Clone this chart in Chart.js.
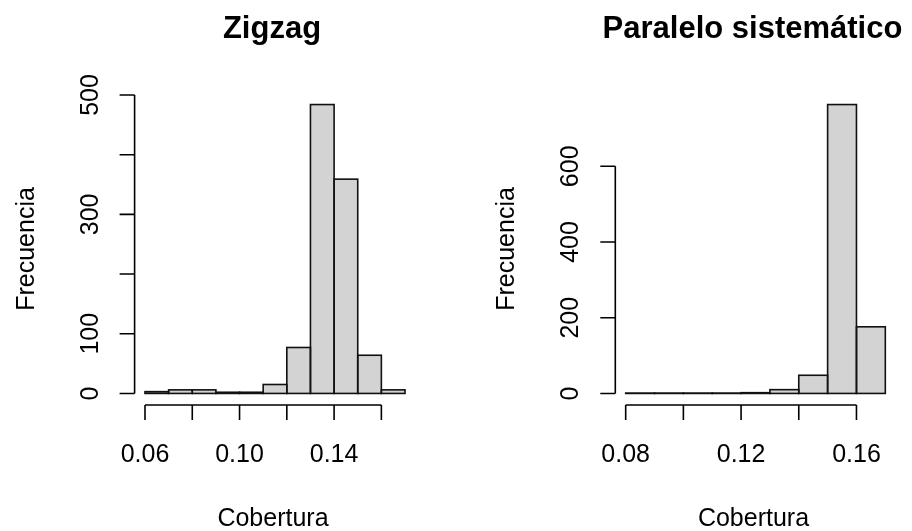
<!DOCTYPE html>
<html>
<head>
<meta charset="utf-8">
<script src="https://cdn.jsdelivr.net/npm/chart.js@4/dist/chart.umd.min.js"></script>
<style>
  body { margin: 0; background: #fff; }
  #wrap { position: relative; width: 912px; height: 531px; }
  canvas { position: absolute; top: 0; }
</style>
</head>
<body>
<div id="wrap">
  <canvas id="zigzagChart" width="456" height="531" style="left:0"></canvas>
  <canvas id="paraleloChart" width="456" height="531" style="left:456px"></canvas>
</div>
<script>
// Histogram data (bin edges + counts)
const zigzagBreaks = [0.06, 0.07, 0.08, 0.09, 0.10, 0.11, 0.12, 0.13, 0.14, 0.15, 0.16, 0.17];
const zigzagCounts = [3, 6, 6, 2, 2, 15, 77, 484, 359, 64, 6];
const zigzagXTicks = [0.06, 0.08, 0.10, 0.12, 0.14, 0.16];
const zigzagXLabels = ['0.06', '', '0.10', '', '0.14', ''];
const zigzagYTicks = [0, 100, 200, 300, 400, 500];
const zigzagYLabels = ['0', '100', '', '300', '', '500'];

const paraleloBreaks = [0.08, 0.09, 0.10, 0.11, 0.12, 0.13, 0.14, 0.15, 0.16, 0.17];
const paraleloCounts = [1, 1, 1, 1, 2, 10, 48, 763, 176];
const paraleloXTicks = [0.08, 0.10, 0.12, 0.14, 0.16];
const paraleloXLabels = ['0.08', '', '0.12', '', '0.16'];
const paraleloYTicks = [0, 200, 400, 600];
const paraleloYLabels = ['0', '200', '400', '600'];

const FONT = '"Liberation Sans", Arial, sans-serif';

// outline every bar like R's rect(): stroke centred on the edges so neighbours share a line
const barOutlinePlugin = {
  id: 'barOutline',
  afterDatasetsDraw(chart) {
    const ctx = chart.ctx;
    ctx.save();
    ctx.strokeStyle = '#111';
    ctx.lineWidth = 1.6;
    chart.getDatasetMeta(0).data.forEach(bar => {
      const { x, y, base, width } = bar.getProps(['x', 'y', 'base', 'width'], true);
      ctx.strokeRect(x - width / 2, y, width, base - y);
    });
    ctx.restore();
  }
};

// R-style axes, titles and labels drawn from the chart's own scales
const rAxesPlugin = {
  id: 'rAxes',
  afterDraw(chart, args, opts) {
    const ctx = chart.ctx;
    const area = chart.chartArea;
    const xs = chart.scales.x;
    const ys = chart.scales.y;
    const cx = (area.left + area.right) / 2;
    const cy = (area.top + area.bottom) / 2;

    ctx.save();
    ctx.strokeStyle = '#000';
    ctx.fillStyle = '#000';
    ctx.lineWidth = 1.6;

    // x axis
    const xFirst = xs.getPixelForValue(opts.xTicks[0]);
    const xLast = xs.getPixelForValue(opts.xTicks[opts.xTicks.length - 1]);
    ctx.beginPath();
    ctx.moveTo(xFirst, area.bottom);
    ctx.lineTo(xLast, area.bottom);
    opts.xTicks.forEach(t => {
      const px = xs.getPixelForValue(t);
      ctx.moveTo(px, area.bottom);
      ctx.lineTo(px, area.bottom + 15);
    });
    ctx.stroke();

    ctx.font = '25px ' + FONT;
    ctx.textAlign = 'center';
    ctx.textBaseline = 'alphabetic';
    opts.xTicks.forEach((t, i) => {
      if (opts.xLabels[i]) ctx.fillText(opts.xLabels[i], xs.getPixelForValue(t), area.bottom + 57);
    });

    // y axis
    const yFirst = ys.getPixelForValue(opts.yTicks[0]);
    const yLast = ys.getPixelForValue(opts.yTicks[opts.yTicks.length - 1]);
    ctx.beginPath();
    ctx.moveTo(area.left, yFirst);
    ctx.lineTo(area.left, yLast);
    opts.yTicks.forEach(t => {
      const py = ys.getPixelForValue(t);
      ctx.moveTo(area.left, py);
      ctx.lineTo(area.left - 15, py);
    });
    ctx.stroke();

    opts.yTicks.forEach((t, i) => {
      if (!opts.yLabels[i]) return;
      ctx.save();
      ctx.translate(area.left - 37, ys.getPixelForValue(t));
      ctx.rotate(-Math.PI / 2);
      ctx.fillText(opts.yLabels[i], 0, 0);
      ctx.restore();
    });

    // axis titles
    ctx.fillText(opts.xTitle, cx - 2, area.bottom + 121);
    ctx.save();
    ctx.translate(area.left - 101, cy);
    ctx.rotate(-Math.PI / 2);
    ctx.fillText(opts.yTitle, 0, 0);
    ctx.restore();

    // main title
    ctx.font = 'bold 31px ' + FONT;
    ctx.fillText(opts.title, cx - 3, 38);

    ctx.restore();
  }
};

function makeHistogram(canvasId, breaks, counts, axes, padding) {
  const points = counts.map((c, i) => ({ x: (breaks[i] + breaks[i + 1]) / 2, y: c }));
  const xRange = breaks[breaks.length - 1] - breaks[0];
  const yMax = Math.max(...counts);

  return new Chart(document.getElementById(canvasId), {
    type: 'bar',
    data: {
      datasets: [{
        data: points,
        backgroundColor: '#d3d3d3',
        borderWidth: 0,
        barPercentage: 1,
        categoryPercentage: 1
      }]
    },
    options: {
      responsive: false,
      animation: false,
      devicePixelRatio: 1,
      layout: { padding: padding },
      plugins: {
        legend: { display: false },
        tooltip: { enabled: false },
        rAxes: axes
      },
      scales: {
        x: {
          type: 'linear',
          offset: false,
          min: breaks[0] - 0.04 * xRange,
          max: breaks[breaks.length - 1] + 0.04 * xRange,
          display: false
        },
        y: {
          type: 'linear',
          min: -0.04 * yMax,
          max: 1.04 * yMax,
          display: false
        }
      }
    },
    plugins: [barOutlinePlugin, rAxesPlugin]
  });
}

makeHistogram('zigzagChart', zigzagBreaks, zigzagCounts, {
  title: 'Zigzag', xTitle: 'Cobertura', yTitle: 'Frecuencia',
  xTicks: zigzagXTicks, xLabels: zigzagXLabels,
  yTicks: zigzagYTicks, yLabels: zigzagYLabels
}, { left: 134.6, right: 40.6, top: 93, bottom: 126 });

makeHistogram('paraleloChart', paraleloBreaks, paraleloCounts, {
  title: 'Paralelo sistemático', xTitle: 'Cobertura', yTitle: 'Frecuencia',
  xTicks: paraleloXTicks, xLabels: paraleloXLabels,
  yTicks: paraleloYTicks, yLabels: paraleloYLabels
}, { left: 159.3, right: 16.3, top: 93, bottom: 126 });
</script>
</body>
</html>
